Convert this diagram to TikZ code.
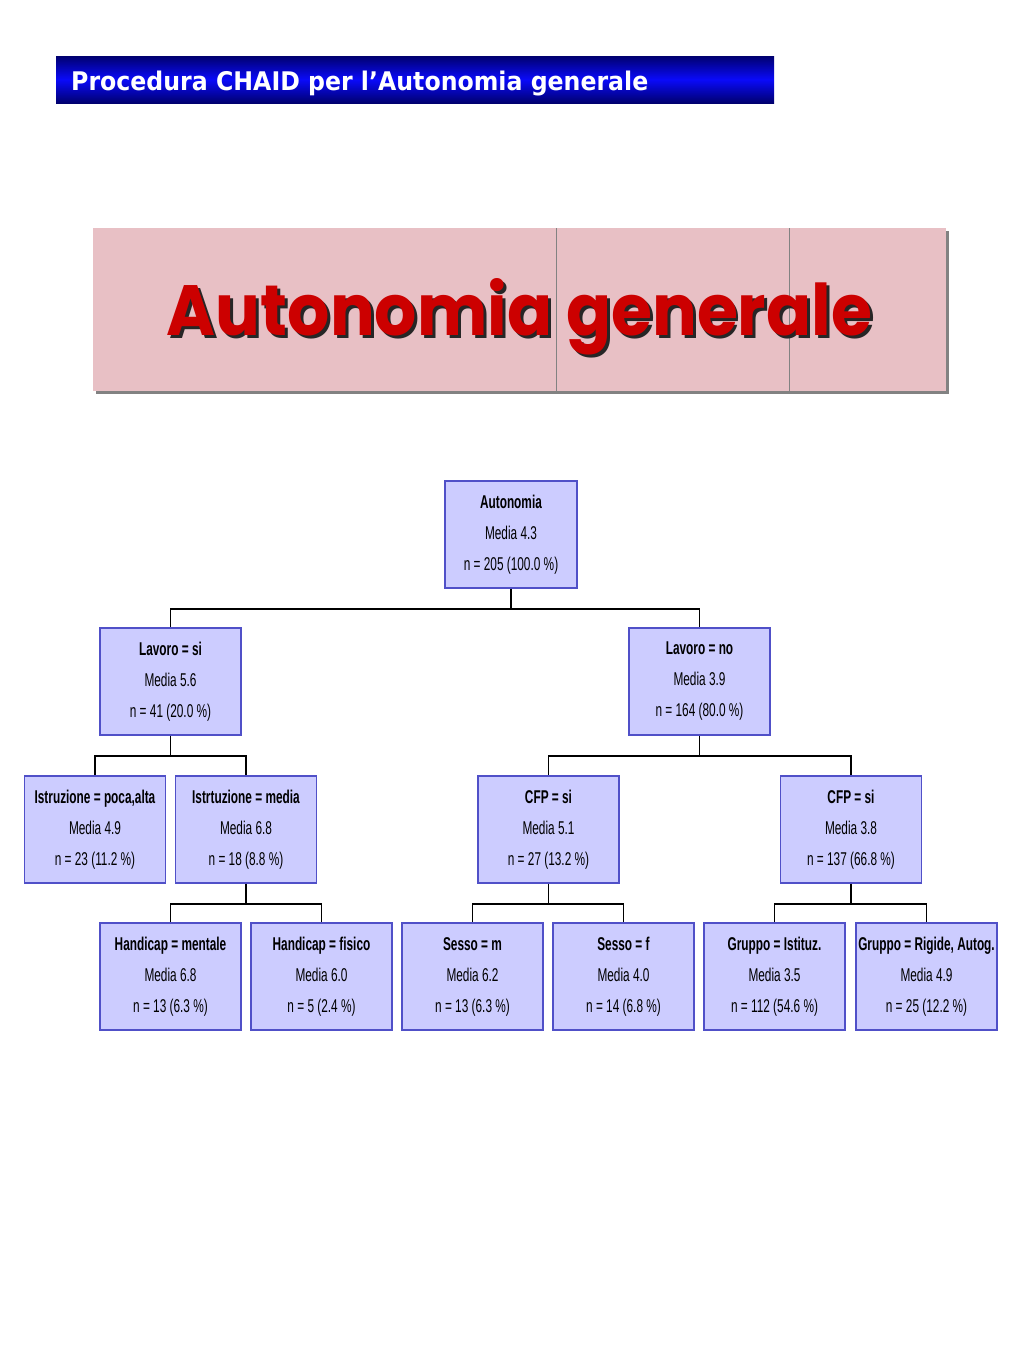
\documentclass[tikz,border=0pt]{standalone}
\usepackage{fontspec}
\usepackage{graphicx}
\newfontfamily\nar[FakeStretch=0.64]{Liberation Sans}
\newfontfamily\headfont{DejaVu Sans}
\newfontfamily\bigfont{Poppins}
\definecolor{boxfill}{RGB}{204,204,255}
\definecolor{boxline}{RGB}{80,80,200}
\definecolor{navy}{RGB}{0,0,110}
\definecolor{brightblue}{RGB}{10,10,250}
\definecolor{pink}{RGB}{232,192,197}
\definecolor{shadowgray}{RGB}{130,130,130}
\definecolor{titlered}{RGB}{204,0,0}
\newcommand{\bannertext}{\resizebox{705pt}{57pt}{\bigfont\bfseries Autonomia generale}}
\tikzset{
  tbox/.style={draw=boxline, fill=boxfill, line width=1.5pt, minimum width=141pt,
    minimum height=107pt, inner sep=0pt, align=center,
    font=\nar\fontsize{18.5}{31}\selectfont},
  conn/.style={draw=black, line width=1.5pt}
}
\begin{document}
\begin{tikzpicture}[x=1pt,y=-1pt]
\useasboundingbox (0,0) rectangle (1024,1365);
\fill[white] (0,0) rectangle (1024,1365);
% header bar
\shade[top color=navy, bottom color=navy, middle color=brightblue] (56,56) rectangle (774,103);
\node[anchor=base west, inner sep=0pt, text=white] (head) at (71,90)
  {\resizebox{577pt}{19.5pt}{\headfont\bfseries Procedura CHAID per l’Autonomia generale}};
% banner
\fill[shadowgray] (96,231) rectangle (949,394);
\fill[pink] (93,228) rectangle (946,391);
\draw[shadowgray, line width=0.6pt] (556,228) -- (556,391);
\draw[shadowgray, line width=0.6pt] (789,228) -- (789,391);
\node[anchor=base, inner sep=0pt] (banner) at (519.5,335)
  {\rlap{\hspace{3pt}\raisebox{-3pt}{\color{black!85}\bannertext}}\color{titlered}\bannertext};
% tree
\node[tbox, minimum width=132pt] (r) at (511,534.5) {\textbf{Autonomia}\\Media 4.3\\n = 205 (100.0 \%)};
\node[tbox] (a) at (170.5,681.5) {\textbf{Lavoro = si}\\Media 5.6\\n = 41 (20.0 \%)};
\node[tbox] (b) at (699.5,681.5) {\textbf{Lavoro = no}\\Media 3.9\\n = 164 (80.0 \%)};
\node[tbox] (a1) at (95,829.5) {\textbf{Istruzione = poca,alta}\\Media 4.9\\n = 23 (11.2 \%)};
\node[tbox] (a2) at (246,829.5) {\textbf{Istrtuzione = media}\\Media 6.8\\n = 18 (8.8 \%)};
\node[tbox] (b1) at (548.5,829.5) {\textbf{CFP = si}\\Media 5.1\\n = 27 (13.2 \%)};
\node[tbox] (b2) at (851,829.5) {\textbf{CFP = si}\\Media 3.8\\n = 137 (66.8 \%)};
\node[tbox] (a21) at (170.5,976.5) {\textbf{Handicap = mentale}\\Media 6.8\\n = 13 (6.3 \%)};
\node[tbox] (a22) at (321.5,976.5) {\textbf{Handicap = fisico}\\Media 6.0\\n = 5 (2.4 \%)};
\node[tbox] (b11) at (472.5,976.5) {\textbf{Sesso = m}\\Media 6.2\\n = 13 (6.3 \%)};
\node[tbox] (b12) at (623.5,976.5) {\textbf{Sesso = f}\\Media 4.0\\n = 14 (6.8 \%)};
\node[tbox] (b21) at (774.5,976.5) {\textbf{Gruppo = Istituz.}\\Media 3.5\\n = 112 (54.6 \%)};
\node[tbox] (b22) at (926.5,976.5) {\textbf{Gruppo = Rigide, Autog.}\\Media 4.9\\n = 25 (12.2 \%)};
% connectors
\foreach \p/\c in {r/a, r/b, a/a1, a/a2, b/b1, b/b2, a2/a21, a2/a22, b1/b11, b1/b12, b2/b21, b2/b22}{
  \draw[conn] (\p.south) -- ++(0,20) -| (\c.north);
}
\end{tikzpicture}
\end{document}
